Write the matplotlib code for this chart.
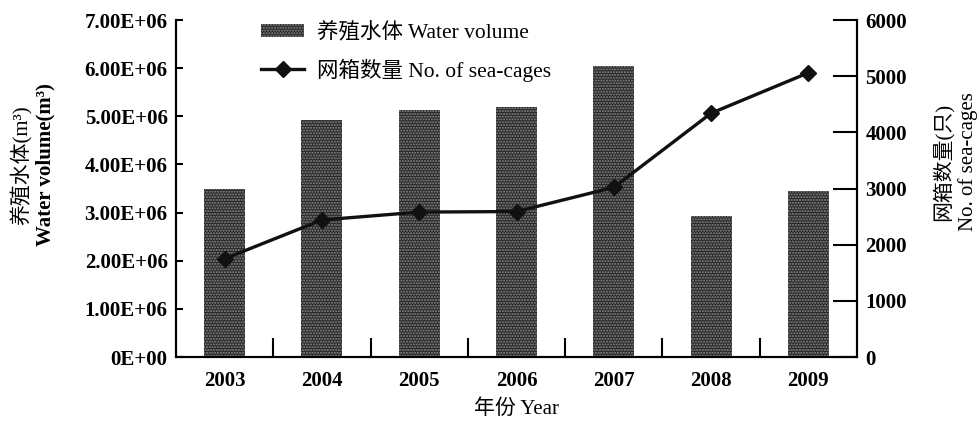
import matplotlib
matplotlib.use("Agg")
import matplotlib.pyplot as plt
from matplotlib.patches import Patch
from matplotlib.lines import Line2D

years = ["2003", "2004", "2005", "2006", "2007", "2008", "2009"]
water_volume = [3.50e6, 4.93e6, 5.14e6, 5.20e6, 6.05e6, 2.93e6, 3.44e6]
sea_cages = [1750, 2440, 2580, 2590, 3020, 4340, 5060]
left_ticks = [0, 1e6, 2e6, 3e6, 4e6, 5e6, 6e6, 7e6]
left_tick_labels = ["0E+00", "1.00E+06", "2.00E+06", "3.00E+06", "4.00E+06",
                    "5.00E+06", "6.00E+06", "7.00E+06"]
right_ticks = [0, 1000, 2000, 3000, 4000, 5000, 6000]

plt.rcParams['font.family'] = ['Liberation Serif', 'Noto Sans CJK SC']
plt.rcParams['font.size'] = 15

fig = plt.figure(figsize=(9.8, 4.23), dpi=100)
ax = fig.add_axes([176/980, 66/423, 681/980, 337/423])
ax2 = ax.twinx()

bar_face = '#262626'
bar_hatch = '#8c8c8c'
x = list(range(len(years)))
ax.bar(x, water_volume, width=0.42, facecolor=bar_face, edgecolor=bar_hatch,
       hatch='......', linewidth=0, zorder=2)
ax.set_xlim(-0.5, len(years) - 0.5)
ax.set_ylim(0, 7e6)
ax.set_yticks(left_ticks)
ax.set_yticklabels(left_tick_labels, fontweight='bold')
ax.set_xticks(x)
ax.set_xticklabels(years, fontweight='bold')
ax.set_xticks([i + 0.5 for i in x[:-1]], minor=True)
ax.tick_params(axis='x', which='major', length=0, pad=10)
ax.tick_params(axis='x', which='minor', direction='in', length=14, width=1.5)
ax.tick_params(axis='y', direction='in', length=5, width=1.5, pad=6)

ax2.plot(x, sea_cages, color='#111111', linewidth=2.4, marker='D',
         markersize=8.5, zorder=3)
ax2.set_ylim(0, 6000)
ax2.set_yticks(right_ticks)
ax2.set_yticklabels([str(t) for t in right_ticks], fontweight='bold')
ax2.tick_params(axis='y', direction='in', length=17, width=1.5, pad=6)

for a in (ax, ax2):
    a.spines['top'].set_visible(False)
    for s in ('left', 'right', 'bottom'):
        a.spines[s].set_linewidth(1.5)

ax.set_xlabel("年份 Year", labelpad=6)

fig.text(22/980, 1 - 165/423, "养殖水体(m³)", rotation=90, ha='center', va='center')
fig.text(45/980, 1 - 165/423, "Water volume(m³)", rotation=90, ha='center',
         va='center', fontweight='bold')
fig.text(943/980, 1 - 162/423, "网箱数量(只)", rotation=90, ha='center', va='center')
fig.text(968/980, 1 - 162/423, "No. of sea-cages", rotation=90, ha='center', va='center')

handles = [Patch(facecolor=bar_face, edgecolor=bar_hatch, hatch='......', linewidth=0),
           Line2D([0], [0], color='#111111', linewidth=2.4, marker='D', markersize=8.5)]
labels = ["养殖水体 Water volume", "网箱数量 No. of sea-cages"]
ax2.legend(handles, labels, loc='upper left', bbox_to_anchor=(0.109, 1.025),
           frameon=False, borderpad=0, handlelength=2.0, handletextpad=0.6,
           labelspacing=0.72, handleheight=0.6, prop={'size': 15.5})

fig.savefig("out.png", dpi=100)
